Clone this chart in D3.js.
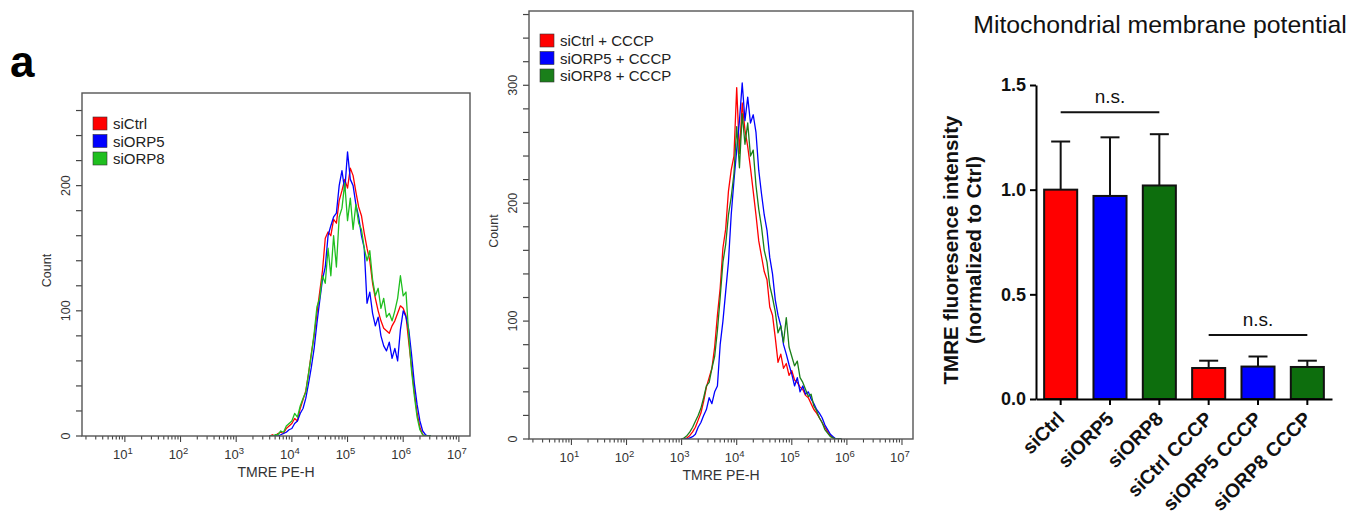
<!DOCTYPE html>
<html>
<head>
<meta charset="utf-8">
<script src="https://cdn.jsdelivr.net/npm/d3@7"></script>
<style>
  body { margin: 0; background: #fff; }
  svg { display: block; font-family: Arial, "Liberation Sans", sans-serif; }
</style>
</head>
<body>
<svg id="fig" width="1353" height="514"></svg>
<script>
// ---- flow histograms: bin centres are log10(TMRE PE-H) ----
const binsUntreated = [3.60, 3.65, 3.70, 3.75, 3.80, 3.85, 3.90, 3.95, 4.00,
  4.05, 4.10, 4.15, 4.20, 4.25, 4.30, 4.35, 4.40, 4.45, 4.50,
  4.55, 4.60, 4.65, 4.70, 4.75, 4.80, 4.85, 4.90, 4.95, 5.00,
  5.05, 5.10, 5.15, 5.20, 5.25, 5.30, 5.35, 5.40, 5.45, 5.50,
  5.55, 5.60, 5.65, 5.70, 5.75, 5.80, 5.85, 5.90, 5.95, 6.00,
  6.05, 6.10, 6.15, 6.20, 6.25, 6.30, 6.35, 6.40, 6.45, 6.50];
const siCtrlCounts = [0, 1, 0, 2, 3, 2, 6, 8, 10,
  14, 12, 22, 29, 36, 50, 66, 80, 98, 115,
  132, 158, 163, 160, 173, 170, 188, 196, 205, 198,
  214, 208, 195, 183, 176, 162, 150, 140, 122, 110,
  100, 92, 86, 84, 82, 88, 92, 98, 104, 102,
  96, 75, 55, 35, 18, 7, 1, 0, 0, 0];
const siORP5Counts = [0, 0, 0, 0, 1, 2, 3, 5, 6,
  10, 12, 18, 22, 30, 42, 55, 70, 90, 108,
  125, 135, 160, 168, 175, 178, 200, 212, 196, 227,
  205, 200, 185, 175, 160, 150, 106, 115, 98, 88,
  95, 80, 72, 68, 75, 62, 70, 60, 85, 100,
  95, 85, 65, 42, 25, 12, 4, 1, 0, 0];
const siORP8Counts = [0, 0, 1, 1, 4, 3, 8, 10, 12,
  18, 15, 24, 30, 35, 50, 65, 82, 103, 110,
  128, 122, 150, 128, 160, 135, 175, 182, 202, 172,
  190, 165, 185, 170, 165, 150, 140, 148, 125, 112,
  118, 102, 110, 95, 98, 92, 100, 110, 128, 112,
  115, 80, 52, 32, 15, 5, 1, 0, 0, 0];

const binsCCCP = [3.00, 3.05, 3.10, 3.15, 3.20, 3.25, 3.30, 3.35, 3.40,
  3.45, 3.50, 3.55, 3.60, 3.65, 3.70, 3.75, 3.80, 3.85, 3.90,
  3.95, 4.00, 4.05, 4.10, 4.15, 4.20, 4.25, 4.30, 4.35, 4.40,
  4.45, 4.50, 4.55, 4.60, 4.65, 4.70, 4.75, 4.80, 4.85, 4.90,
  4.95, 5.00, 5.05, 5.10, 5.15, 5.20, 5.25, 5.30, 5.35, 5.40,
  5.45, 5.50, 5.55, 5.60, 5.65, 5.70, 5.75, 5.80, 5.85, 5.90];
const siCtrlCCCPCounts = [0, 0, 1, 3, 6, 10, 16, 22, 32,
  44, 52, 60, 78, 105, 128, 162, 178, 210, 228,
  240, 298, 242, 285, 262, 248, 230, 210, 190, 168,
  155, 142, 135, 112, 105, 86, 65, 72, 60, 64,
  54, 58, 50, 48, 44, 42, 37, 35, 30, 25,
  22, 18, 14, 10, 6, 3, 1, 0, 0, 0];
const siORP5CCCPCounts = [0, 0, 0, 1, 2, 4, 10, 14, 20,
  25, 35, 30, 40, 45, 80, 100, 125, 150, 190,
  219, 245, 270, 302, 270, 290, 268, 275, 260, 228,
  208, 190, 177, 154, 140, 118, 105, 96, 80, 72,
  63, 55, 45, 52, 40, 45, 38, 40, 34, 30,
  25, 22, 18, 12, 8, 4, 2, 0, 0, 0];
const siORP8CCCPCounts = [0, 1, 3, 6, 10, 15, 20, 26, 35,
  45, 48, 60, 70, 92, 120, 150, 165, 190, 205,
  225, 265, 230, 276, 250, 268, 240, 245, 215, 195,
  180, 160, 150, 130, 120, 108, 90, 96, 82, 103,
  78, 70, 62, 66, 52, 48, 42, 36, 38, 28,
  24, 18, 14, 8, 5, 2, 1, 0, 0, 0];

// ---- bar chart ----
const barLabels = ["siCtrl", "siORP5", "siORP8", "siCtrl CCCP", "siORP5 CCCP", "siORP8 CCCP"];
const barMeans = [1.00, 0.97, 1.02, 0.148, 0.155, 0.153];
const barErrors = [0.23, 0.28, 0.245, 0.035, 0.048, 0.030];
const barColors = ["#ff0000", "#0000ff", "#0d6e0d", "#ff0000", "#0000ff", "#0d6e0d"];
const sigPairs = [[0, 2, 1.37], [3, 5, 0.306]];

const svg = d3.select("#fig");

svg.append("text")
  .attr("x", 10).attr("y", 77)
  .attr("font-size", 44).attr("font-weight", "bold")
  .text("a");

function drawHistogram(p) {
  const x = d3.scaleLog()
    .domain([Math.pow(10, 0.23), Math.pow(10, 7.2)])
    .range([p.left, p.right]);
  const y = d3.scaleLinear().domain([0, p.ymax]).range([p.bottom, p.top]);
  const g = svg.append("g");

  const clipId = "clip" + p.left;
  svg.append("clipPath").attr("id", clipId)
    .append("rect")
    .attr("x", p.left).attr("y", p.top)
    .attr("width", p.right - p.left).attr("height", p.bottom - p.top);

  // y ticks every 20 counts, labels every 100
  const yTicks = d3.range(0, p.ymax, 20);
  g.selectAll(".ytick").data(yTicks).join("line")
    .attr("x1", p.left - 6).attr("x2", p.left)
    .attr("y1", d => y(d)).attr("y2", d => y(d))
    .attr("stroke", "#444").attr("stroke-width", 1.2);
  g.selectAll(".ylab").data(yTicks.filter(d => d % 100 === 0)).join("text")
    .attr("transform", d => `translate(${p.left - 12},${y(d)}) rotate(-90)`)
    .attr("text-anchor", "middle")
    .attr("font-size", 12.5).attr("fill", "#333")
    .text(d => d);
  g.append("text")
    .attr("transform", `translate(${p.left - 31},${(p.top + p.bottom) / 2 + 6}) rotate(-90)`)
    .attr("text-anchor", "middle")
    .attr("font-size", 12.5).attr("fill", "#333")
    .text("Count");

  // log x ticks
  const xTicks = x.ticks();
  const isMajor = d => Math.abs(Math.log10(d) - Math.round(Math.log10(d))) < 1e-9;
  g.selectAll(".xtick").data(xTicks).join("line")
    .attr("x1", d => x(d)).attr("x2", d => x(d))
    .attr("y1", p.bottom).attr("y2", d => p.bottom + (isMajor(d) ? 6 : 3.5))
    .attr("stroke", "#444").attr("stroke-width", 1.1);
  const labs = g.selectAll(".xlab").data(xTicks.filter(d => isMajor(d) && d >= 10)).join("text")
    .attr("x", d => x(d) - 2).attr("y", p.bottom + 23)
    .attr("text-anchor", "middle")
    .attr("font-size", 13).attr("fill", "#333");
  labs.append("tspan").text("10");
  labs.append("tspan").attr("dy", -5).attr("font-size", 9.5)
    .text(d => Math.round(Math.log10(d)));
  g.append("text")
    .attr("x", (p.left + p.right) / 2).attr("y", p.bottom + 41)
    .attr("text-anchor", "middle")
    .attr("font-size", 14).attr("fill", "#333")
    .text("TMRE PE-H");

  // curves
  const line = d3.line()
    .x(d => x(Math.pow(10, d[0])))
    .y(d => y(d[1]));
  p.series.forEach(s => {
    g.append("path")
      .datum(p.bins.map((b, i) => [b, s.counts[i]]))
      .attr("clip-path", `url(#${clipId})`)
      .attr("fill", "none")
      .attr("stroke", s.color)
      .attr("stroke-width", 1.3)
      .attr("stroke-linejoin", "round")
      .attr("d", line);
  });

  // frame
  g.append("rect")
    .attr("x", p.left).attr("y", p.top)
    .attr("width", p.right - p.left).attr("height", p.bottom - p.top)
    .attr("fill", "none").attr("stroke", "#555").attr("stroke-width", 1.4);

  // legend
  const leg = g.selectAll(".leg").data(p.series).join("g")
    .attr("transform", (d, i) => `translate(${p.left + 11},${p.top + p.legTop + i * 17.5})`);
  leg.append("rect")
    .attr("width", 14).attr("height", 13)
    .attr("fill", d => d.color).attr("stroke", "#333").attr("stroke-width", 0.6);
  leg.append("text")
    .attr("x", 20).attr("y", 12)
    .attr("font-size", 15).attr("fill", "#222")
    .text(d => d.name);
}

drawHistogram({
  left: 82, right: 470, top: 93, bottom: 436, ymax: 274, legTop: 24,
  bins: binsUntreated,
  series: [
    { name: "siCtrl", color: "#ff0000", counts: siCtrlCounts },
    { name: "siORP5", color: "#0000ff", counts: siORP5Counts },
    { name: "siORP8", color: "#1fbf1f", counts: siORP8Counts }
  ]
});

drawHistogram({
  left: 529, right: 913, top: 11, bottom: 439, ymax: 363, legTop: 23,
  bins: binsCCCP,
  series: [
    { name: "siCtrl + CCCP", color: "#ff0000", counts: siCtrlCCCPCounts },
    { name: "siORP5 + CCCP", color: "#0000ff", counts: siORP5CCCPCounts },
    { name: "siORP8 + CCCP", color: "#1a7f1a", counts: siORP8CCCPCounts }
  ]
});

// ---- bar chart ----
const xb = d3.scaleBand().domain(barLabels).range([1036, 1332])
  .paddingInner(0.33).paddingOuter(0.165);
const yb = d3.scaleLinear().domain([0, 1.5]).range([399, 85]);
const bg = svg.append("g");

svg.append("text")
  .attr("x", 1160).attr("y", 33)
  .attr("text-anchor", "middle")
  .attr("font-size", 24.8).attr("fill", "#111")
  .text("Mitochondrial membrane potential");

const yAxis = bg.append("g")
  .attr("transform", "translate(1036,0)")
  .call(d3.axisLeft(yb).tickValues([0, 0.5, 1, 1.5]).tickFormat(d3.format(".1f"))
    .tickSize(6).tickSizeOuter(0));
yAxis.selectAll("path, line").attr("stroke", "#000").attr("stroke-width", 2);
yAxis.selectAll("text")
  .attr("font-size", 18).attr("font-weight", "bold").attr("fill", "#111")
  .attr("font-family", "Arial, 'Liberation Sans', sans-serif")
  .attr("x", -10);

const yLab = bg.append("text")
  .attr("transform", "translate(958,250) rotate(-90)")
  .attr("text-anchor", "middle")
  .attr("font-size", 20.5).attr("font-weight", "bold").attr("fill", "#111");
yLab.append("tspan").attr("x", 0).attr("y", 0).text("TMRE fluoresence intensity");
yLab.append("tspan").attr("x", 0).attr("y", 23).text("(normalized to Ctrl)");

// bars
bg.selectAll(".bar").data(barLabels).join("rect")
  .attr("x", d => xb(d))
  .attr("y", (d, i) => yb(barMeans[i]))
  .attr("width", xb.bandwidth())
  .attr("height", (d, i) => yb(0) - yb(barMeans[i]))
  .attr("fill", (d, i) => barColors[i])
  .attr("stroke", "#111").attr("stroke-width", 2);

// error bars
const errG = bg.selectAll(".err").data(barLabels).join("g");
errG.append("line")
  .attr("x1", d => xb(d) + xb.bandwidth() / 2).attr("x2", d => xb(d) + xb.bandwidth() / 2)
  .attr("y1", (d, i) => yb(barMeans[i]))
  .attr("y2", (d, i) => yb(barMeans[i] + barErrors[i]))
  .attr("stroke", "#111").attr("stroke-width", 2);
errG.append("line")
  .attr("x1", d => xb(d) + xb.bandwidth() / 2 - 9.5).attr("x2", d => xb(d) + xb.bandwidth() / 2 + 9.5)
  .attr("y1", (d, i) => yb(barMeans[i] + barErrors[i]))
  .attr("y2", (d, i) => yb(barMeans[i] + barErrors[i]))
  .attr("stroke", "#111").attr("stroke-width", 2);

const xAxis = bg.append("g")
  .attr("transform", "translate(0,399)")
  .call(d3.axisBottom(xb).tickSize(6).tickSizeOuter(0));
xAxis.selectAll("path, line").attr("stroke", "#000").attr("stroke-width", 2);
xAxis.selectAll("text")
  .attr("font-size", 19.5).attr("font-weight", "bold").attr("fill", "#111")
  .attr("font-family", "Arial, 'Liberation Sans', sans-serif")
  .attr("text-anchor", "end")
  .attr("dy", null)
  .attr("transform", "translate(5,21) rotate(-45)")
  .attr("x", 0).attr("y", 0);

// significance brackets
sigPairs.forEach(([a, b, v]) => {
  const x1 = xb(barLabels[a]) + xb.bandwidth() / 2;
  const x2 = xb(barLabels[b]) + xb.bandwidth() / 2;
  bg.append("line")
    .attr("x1", x1).attr("x2", x2)
    .attr("y1", yb(v)).attr("y2", yb(v))
    .attr("stroke", "#111").attr("stroke-width", 2);
  bg.append("text")
    .attr("x", (x1 + x2) / 2).attr("y", yb(v) - 9)
    .attr("text-anchor", "middle")
    .attr("font-size", 19).attr("fill", "#111")
    .text("n.s.");
});
</script>
</body>
</html>
